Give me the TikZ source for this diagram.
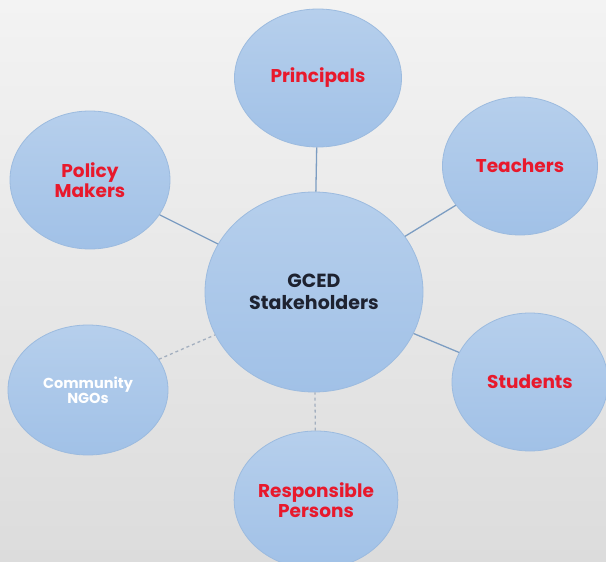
\documentclass[tikz,border=0pt]{standalone}
\usepackage{fontspec}
\setmainfont{Poppins}
\usetikzlibrary{shapes.geometric}

\definecolor{bubbletop}{HTML}{B6CFEC}
\definecolor{bubblebot}{HTML}{A1C1E7}
\definecolor{bubbleline}{HTML}{9CBBDF}
\definecolor{linkblue}{HTML}{7C9DC2}
\definecolor{linkgray}{HTML}{A3AFBF}
\definecolor{rolered}{HTML}{E8192C}
\definecolor{hubtext}{HTML}{1E2230}
\definecolor{bgtop}{HTML}{F3F3F3}
\definecolor{bgbot}{HTML}{DCDCDC}

\tikzset{
  bubble/.style={ellipse, draw=bubbleline, line width=0.8pt,
    top color=bubbletop, bottom color=bubblebot, inner sep=0pt,
    minimum width=160pt, minimum height=138pt, align=center,
    text=rolered, font=\bfseries\fontsize{18.5}{20}\selectfont},
  hub/.style={bubble, minimum width=218pt, minimum height=200pt,
    text=hubtext, font=\bfseries\fontsize{19}{22}\selectfont},
  link/.style={draw=linkblue, line width=1.3pt},
  dashlink/.style={draw=linkgray, line width=1.3pt, dashed}
}

\begin{document}
\begin{tikzpicture}[x=1pt, y=-1pt]
    % Background
    \useasboundingbox (0,0) rectangle (606,562);
    \clip (0,0) rectangle (606,562);
    \shade[top color=bgtop, bottom color=bgbot] (0,0) rectangle (606,562);

    % Nodes
    \node (gced) [hub] at (314, 292) {GCED\\Stakeholders};
    \node (principals) [bubble, minimum width=167pt] at (318, 78) {Principals};
    \node (teachers) [bubble, minimum width=155pt] at (520, 166) {Teachers};
    \node (policy) [bubble] at (90, 180) {Policy\\Makers};
    \node (ngos) [bubble, minimum height=130pt, text=white,
        font=\bfseries\fontsize{14.5}{15}\selectfont] at (88, 390) {Community\\NGOs};
    \node (students) [bubble, minimum width=156pt] at (530, 382) {Students};
    \node (persons) [bubble] at (316, 500) {Responsible\\Persons};

    % Edges
    \draw[link] (principals) -- (gced);
    \draw[link] (teachers) -- (gced);
    \draw[link] (policy) -- (gced);
    \draw[link] (students) -- (gced);
    \draw[dashlink] (ngos) -- (gced);
    \draw[dashlink] (persons) -- (gced);

\end{tikzpicture}
\end{document}
